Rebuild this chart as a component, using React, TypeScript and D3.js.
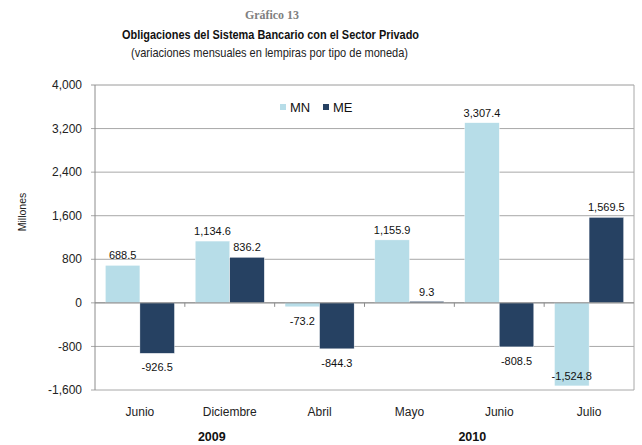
import React from "react"
import { scaleBand, scaleLinear, formatLocale } from "d3"

/** Chart data */
const categories = ["Junio", "Diciembre", "Abril", "Mayo", "Junio ", "Julio"]
const series = ["MN", "ME"]
const mnValues = [688.5, 1134.6, -73.2, 1155.9, 3307.4, -1524.8]
const meValues = [-926.5, 836.2, -844.3, 9.3, -808.5, 1569.5]
const yTicks = [-1600, -800, 0, 800, 1600, 2400, 3200, 4000]
const years = ["2009", "2010"]

const colors: Record<string, string> = { MN: "#b7dde8", ME: "#264162" }
const font = "'Liberation Sans', Arial, Helvetica, sans-serif"

/** Excel style numbers: comma thousands, plain hyphen minus */
const locale = formatLocale({ decimal: ".", thousands: ",", grouping: [3], currency: ["", ""], minus: "-" })

export default function App() {
	/** Chart dimensions */
	const width = 642
	const height = 445

	/** Plot area */
	const left = 95
	const right = 634
	const top = 85
	const bottom = 390

	const x0 = scaleBand<string>().domain(categories).range([left, right]).padding(0)
	const x1 = scaleBand<string>().domain(series).range([0, x0.bandwidth()]).paddingInner(0).paddingOuter(0.3)
	const y = scaleLinear().domain([-1600, 4000]).range([bottom, top])

	const fmtTick = locale.format(",")
	const fmtLabel = locale.format(",.1f")

	const rows = categories.map((c, i) => ({ cat: c, MN: mnValues[i], ME: meValues[i] }))

	/** Year label anchors: under the category boundaries */
	const yearX = [(x0("Diciembre") as number) + 27, (x0("Junio ") as number) + 18]

	return (
		<svg width={width} height={height} style={{ position: "absolute", left: 0, top: 0, background: "#fff" }} fontFamily={font}>
			{/* titles */}
			<text x={272} y={18.5} textAnchor="middle" fontFamily="'Liberation Serif', 'Times New Roman', serif" fontWeight="bold" fontSize={13} fill="#808080" textLength={54} lengthAdjust="spacingAndGlyphs">
				Gráfico 13
			</text>
			<text x={270.5} y={39} textAnchor="middle" fontWeight="bold" fontSize={13} fill="#111" textLength={297} lengthAdjust="spacingAndGlyphs">
				Obligaciones del Sistema Bancario con el Sector Privado
			</text>
			<text x={269.5} y={57} textAnchor="middle" fontSize={13} fill="#222" textLength={277} lengthAdjust="spacingAndGlyphs">
				(variaciones mensuales en lempiras por tipo de moneda)
			</text>

			{/* gridlines and y ticks */}
			<g className="y-axis">
				{yTicks.map(t => (
					<g key={t}>
						<line x1={left - 4} x2={right} y1={y(t)} y2={y(t)} stroke={t === 4000 ? "#9a9a9a" : "#a8a8a8"} strokeWidth={1} />
						<text x={82} y={y(t)} dy="0.35em" textAnchor="end" fontSize={12} fill="#222">
							{fmtTick(t)}
						</text>
					</g>
				))}
				<line x1={left} x2={left} y1={top} y2={bottom} stroke="#8c8c8c" />
				<line x1={right} x2={right} y1={top} y2={bottom} stroke="#a8a8a8" />
			</g>

			<text transform={`translate(26, ${212}) rotate(-90)`} textAnchor="middle" fontSize={10.5} fill="#222">
				Millones
			</text>

			{/* bars */}
			<g className="bars">
				{rows.map(r => (
					<g key={r.cat} transform={`translate(${x0(r.cat)}, 0)`}>
						{series.map(s => {
							const v = (r as any)[s] as number
							const bx = x1(s) as number
							return (
								<rect
									key={s}
									x={bx}
									width={x1.bandwidth()}
									y={Math.min(y(v), y(0)) - (Math.abs(y(v) - y(0)) < 1.5 ? 1 : 0)}
									height={Math.max(Math.abs(y(v) - y(0)), 1.5)}
									fill={colors[s]}
									stroke="#fff"
									strokeWidth={0.4}
								/>
							)
						})}
					</g>
				))}
			</g>

			{/* x axis at zero */}
			<g className="x-axis">
				<line x1={left} x2={right} y1={y(0)} y2={y(0)} stroke="#8c8c8c" />
				{categories.slice(1).map(c => (
					<line key={c} x1={x0(c)} x2={x0(c)} y1={y(0)} y2={y(0) + 4} stroke="#8c8c8c" />
				))}
				{categories.map(c => (
					<text key={c} x={(x0(c) as number) + x0.bandwidth() / 2} y={416} textAnchor="middle" fontSize={12} fill="#222">
						{c.trim()}
					</text>
				))}
				{years.map((yr, i) => (
					<text key={yr} x={yearX[i]} y={440.5} textAnchor="middle" fontSize={12.5} fontWeight="bold" fill="#111">
						{yr}
					</text>
				))}
			</g>

			{/* data labels */}
			<g className="labels">
				{rows.map(r =>
					series.map(s => {
						const v = (r as any)[s] as number
						const cx = (x0(r.cat) as number) + (x1(s) as number) + x1.bandwidth() / 2
						const ly = v >= 0 ? y(v) - 6 : Math.min(y(v) + 18, bottom - 10.5)
						return (
							<text key={r.cat + s} x={cx} y={ly} textAnchor="middle" fontSize={11} fill="#111">
								{fmtLabel(v)}
							</text>
						)
					})
				)}
			</g>

			{/* legend */}
			<g className="legend" transform="translate(280, 104)">
				{series.map((s, i) => (
					<g key={s} transform={`translate(${i * 43}, 0)`}>
						<rect x={0} y={0} width={6} height={6} fill={colors[s]} />
						<text x={10} y={3} dy="0.36em" fontSize={13} fill="#111">
							{s}
						</text>
					</g>
				))}
			</g>
		</svg>
	)
}
